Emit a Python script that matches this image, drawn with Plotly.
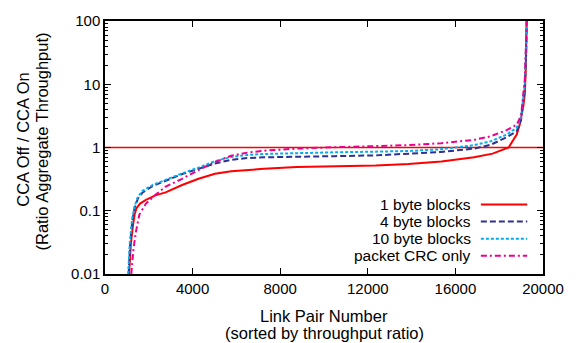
import plotly.graph_objects as go

# ---- data ----
one_byte_x = [1100, 1180, 1280, 1360, 1440, 1600, 1870, 2300, 2770, 3520, 4270, 5020, 5760,
              7260, 8760, 10500, 12360, 13850, 15360, 16850, 17700, 18430, 18800, 18950,
              19100, 19170, 19220, 19250]
one_byte_y = [0.01, 0.03, 0.06, 0.09, 0.11, 0.13, 0.149, 0.175, 0.195, 0.255, 0.32, 0.385, 0.42,
              0.46, 0.49, 0.50, 0.52, 0.55, 0.60, 0.70, 0.80, 1.0, 1.6, 2.4,
              4.5, 7.0, 20, 100]

four_byte_x = [1080, 1150, 1250, 1350, 1500, 1720, 2170, 2770, 3520, 4270, 5020, 5760, 6500,
               7260, 8760, 10500, 12360, 13850, 15360, 16850, 17600, 18340, 18800, 19000,
               19170, 19230, 19260]
four_byte_y = [0.01, 0.03, 0.07, 0.11, 0.155, 0.195, 0.245, 0.30, 0.38, 0.46, 0.56, 0.64, 0.68,
               0.70, 0.72, 0.73, 0.75, 0.79, 0.85, 0.96, 1.1, 1.45, 1.8, 2.75,
               9, 30, 100]

ten_byte_x = [1060, 1130, 1230, 1330, 1480, 1700, 2170, 2770, 3520, 4270, 5020, 5760, 6500,
              7260, 8760, 10500, 12360, 13850, 15360, 16850, 17600, 18340, 18800, 19000,
              19170, 19230, 19260]
ten_byte_y = [0.01, 0.03, 0.07, 0.11, 0.16, 0.205, 0.255, 0.31, 0.39, 0.48, 0.61, 0.71, 0.76,
              0.79, 0.82, 0.84, 0.86, 0.88, 0.94, 1.09, 1.25, 1.6, 2.05, 3.0,
              10, 35, 100]

crc_x = [1200, 1300, 1420, 1570, 1870, 2320, 2770, 3520, 4270, 5020, 5760, 6500,
         7260, 8760, 10500, 12360, 13850, 15360, 16850, 17600, 18340, 18800, 19000,
         19170, 19230, 19260]
crc_y = [0.01, 0.025, 0.048, 0.087, 0.13, 0.18, 0.24, 0.32, 0.44, 0.59, 0.74, 0.83,
         0.89, 0.96, 1.01, 1.06, 1.09, 1.17, 1.32, 1.5, 1.88, 2.3, 3.2,
         12, 40, 100]

reference_x = [0, 20000]
reference_y = [1, 1]

series_names = ["1 byte blocks", "4 byte blocks", "10 byte blocks", "packet CRC only"]
x_ticks = [0, 4000, 8000, 12000, 16000, 20000]
x_tick_labels = ["0", "4000", "8000", "12000", "16000", "20000"]
y_ticks = [0.01, 0.1, 1, 10, 100]
y_tick_labels = ["0.01", "0.1", "1", "10", "100"]

# ---- styling ----
FONT = "Liberation Sans"
styles = [
    dict(color="#ff0000", dash="solid"),
    dict(color="#2e3192", dash="6px,3px"),
    dict(color="#00aeef", dash="3px,2px"),
    dict(color="#ec008c", dash="6px,3px,2px,3px"),
]
xs = [one_byte_x, four_byte_x, ten_byte_x, crc_x]
ys = [one_byte_y, four_byte_y, ten_byte_y, crc_y]

fig = go.Figure()
fig.add_trace(go.Scatter(x=reference_x, y=reference_y, mode="lines",
                         line=dict(color="#ff0000", width=1.5), showlegend=False,
                         hoverinfo="skip"))
for name, x, y, st in zip(series_names, xs, ys, styles):
    fig.add_trace(go.Scatter(x=x, y=y, mode="lines", name=name,
                             line=dict(color=st["color"], dash=st["dash"], width=2),
                             showlegend=False))

PAGE_W, PAGE_H = 576, 343
PLOT_L, PLOT_T, PLOT_W, PLOT_H = 105, 16, 444, 258


def px_to_paper_y(py):
    return (PLOT_T + PLOT_H - py) / PLOT_H


def px_to_paper_x(px):
    return (px - PLOT_L) / PLOT_W


# custom gnuplot-style legend (text left of sample)
leg_py = [203, 220.5, 238, 255.5]
for name, st, py in zip(series_names, styles, leg_py):
    ly = px_to_paper_y(py)
    fig.add_annotation(x=px_to_paper_x(478), y=ly, xref="paper", yref="paper", text=name,
                       showarrow=False, xanchor="right", yanchor="middle",
                       font=dict(family=FONT, size=15.5, color="black"))
    fig.add_shape(type="line", xref="paper", yref="paper",
                  x0=px_to_paper_x(486), x1=px_to_paper_x(533),
                  y0=ly, y1=ly, line=dict(color=st["color"], dash=st["dash"], width=2))

minor_vals = [m * 10 ** e for e in range(-2, 2) for m in range(2, 10)]

fig.update_layout(
    width=PAGE_W, height=PAGE_H,
    margin=dict(l=PLOT_L, r=PAGE_W - PLOT_L - PLOT_W, t=PLOT_T,
                b=PAGE_H - PLOT_T - PLOT_H, pad=0),
    paper_bgcolor="white", plot_bgcolor="white",
    font=dict(family=FONT, size=15, color="black"),
    xaxis=dict(range=[0, 20000], tickvals=x_ticks, ticktext=x_tick_labels,
               ticks="inside", ticklen=6,
               showline=True, mirror="ticks", linecolor="black", linewidth=1.5,
               tickcolor="black", showgrid=False, zeroline=False,
               tickfont=dict(size=15)),
    yaxis=dict(type="log", range=[-2, 2], tickvals=y_ticks, ticktext=y_tick_labels,
               ticks="inside", ticklen=6, showline=True, mirror="ticks",
               linecolor="black", linewidth=1.5, tickcolor="black",
               showgrid=False, zeroline=False, tickfont=dict(size=15),
               minor=dict(tickvals=minor_vals, ticks="inside", ticklen=3,
                          tickcolor="black", showgrid=False)),
)

# axis titles
fig.add_annotation(x=0.5, y=px_to_paper_y(316.5), xref="paper", yref="paper",
                   text="Link Pair Number", showarrow=False, yanchor="middle",
                   font=dict(family=FONT, size=16.5))
fig.add_annotation(x=0.5, y=px_to_paper_y(334.5), xref="paper", yref="paper",
                   text="(sorted by throughput ratio)", showarrow=False, yanchor="middle",
                   font=dict(family=FONT, size=16.5))
fig.add_annotation(x=px_to_paper_x(22), y=px_to_paper_y(137), xref="paper", yref="paper",
                   text="CCA Off / CCA On", showarrow=False, textangle=-90,
                   xanchor="center", yanchor="middle", font=dict(family=FONT, size=16.5))
fig.add_annotation(x=px_to_paper_x(41), y=px_to_paper_y(139), xref="paper", yref="paper",
                   text="(Ratio Aggregate Throughput)", showarrow=False, textangle=-90,
                   xanchor="center", yanchor="middle", font=dict(family=FONT, size=16.5))

# remove the browser's default 8px body margin so the figure fills the window
fig.write_html("out.html", config={"displayModeBar": False},
               post_script="document.body.style.margin='0';document.body.style.overflow='hidden';")
